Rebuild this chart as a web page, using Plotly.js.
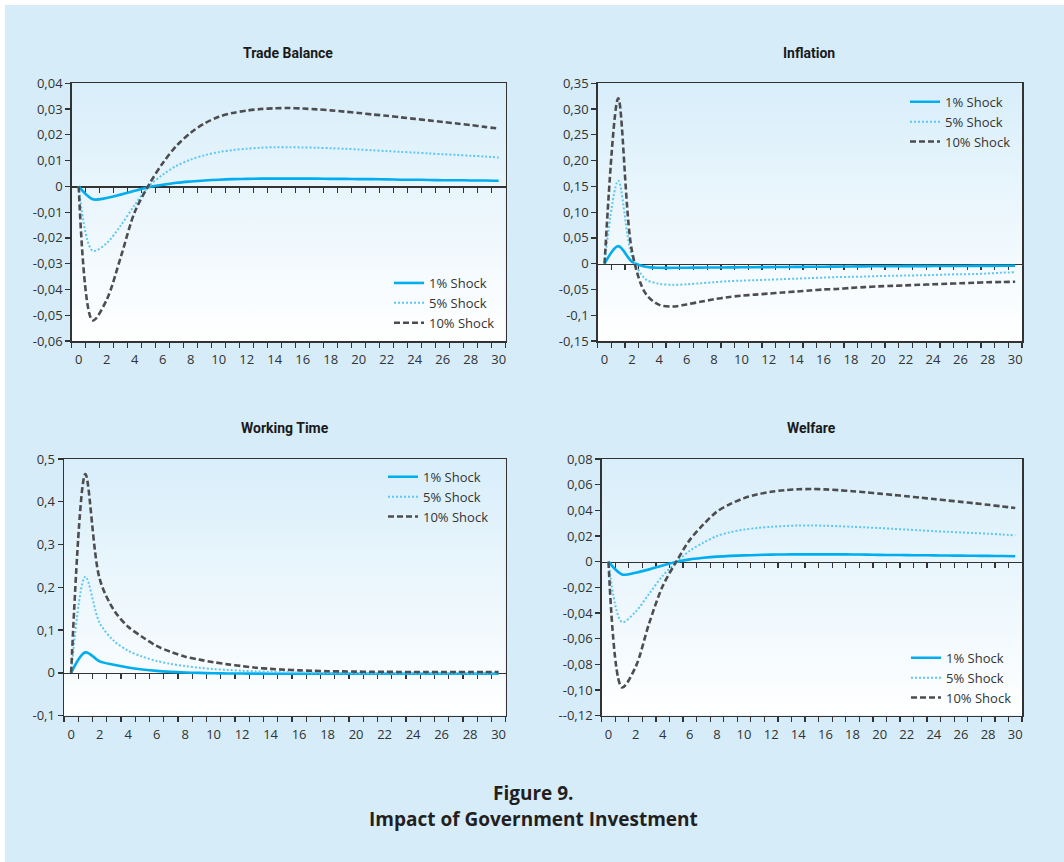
<!DOCTYPE html>
<html><head><meta charset="utf-8">
<script src="https://cdn.plot.ly/plotly-3.0.1.min.js"></script>
<style>html,body{margin:0;padding:0;background:#fff;}#chart{width:1064px;height:862px;}</style>
</head><body><div id="chart"></div>
<script>
// ---------- data ----------
const periods = [0,1,2,3,4,5,6,7,8,9,10,11,12,13,14,15,16,17,18,19,20,21,22,23,24,25,26,27,28,29,30];
const xTickVals = [0,2,4,6,8,10,12,14,16,18,20,22,24,26,28,30];
const xTickText = ['0','2','4','6','8','10','12','14','16','18','20','22','24','26','28','30'];
const seriesNames = ['1% Shock','5% Shock','10% Shock'];

const tradeBalance1  = [0,-0.0050,-0.0045,-0.0032,-0.0017,-0.0003,0.0006,0.0014,0.0019,0.0023,0.0026,0.0028,0.0029,0.0030,0.0030,0.0030,0.0030,0.0030,0.0029,0.0029,0.0028,0.0028,0.0027,0.0026,0.0026,0.0025,0.0024,0.0024,0.0023,0.0023,0.0022];
const tradeBalance5  = [0,-0.0250,-0.0220,-0.0152,-0.0072,0.0000,0.0045,0.0080,0.0104,0.0121,0.0133,0.0141,0.0146,0.0150,0.0152,0.0152,0.0151,0.0150,0.0148,0.0146,0.0143,0.0140,0.0137,0.0134,0.0131,0.0128,0.0125,0.0122,0.0119,0.0116,0.0112];
const tradeBalance10 = [0,-0.0520,-0.0440,-0.0275,-0.0100,0.0005,0.0090,0.0158,0.0208,0.0245,0.0270,0.0285,0.0294,0.0300,0.0303,0.0304,0.0302,0.0299,0.0295,0.0290,0.0285,0.0279,0.0274,0.0268,0.0262,0.0256,0.0250,0.0244,0.0238,0.0231,0.0224];
const tradeBalanceTickVals = [0.04,0.03,0.02,0.01,0,-0.01,-0.02,-0.03,-0.04,-0.05,-0.06];
const tradeBalanceTickText = ['0,04','0,03','0,02','0,01','0','-0,01','-0,02','-0,03','-0,04','-0,05','-0,06'];

const inflation1  = [0,0.034,0.004,-0.006,-0.008,-0.008,-0.0078,-0.0076,-0.0074,-0.0072,-0.0070,-0.0068,-0.0066,-0.0064,-0.0062,-0.0060,-0.0058,-0.0056,-0.0054,-0.0052,-0.0050,-0.0049,-0.0048,-0.0047,-0.0046,-0.0045,-0.0044,-0.0043,-0.0042,-0.0041,-0.0040];
const inflation5  = [0,0.161,0.015,-0.030,-0.039,-0.041,-0.040,-0.038,-0.036,-0.034,-0.033,-0.032,-0.031,-0.030,-0.029,-0.028,-0.027,-0.026,-0.0255,-0.025,-0.024,-0.0235,-0.023,-0.0225,-0.022,-0.021,-0.0205,-0.020,-0.019,-0.0175,-0.0165];
const inflation10 = [0,0.321,0.025,-0.058,-0.080,-0.083,-0.079,-0.074,-0.069,-0.065,-0.062,-0.060,-0.058,-0.056,-0.054,-0.052,-0.050,-0.049,-0.047,-0.0455,-0.044,-0.043,-0.042,-0.041,-0.040,-0.039,-0.038,-0.037,-0.036,-0.0355,-0.035];
const inflationTickVals = [0.35,0.30,0.25,0.20,0.15,0.10,0.05,0,-0.05,-0.1,-0.15];
const inflationTickText = ['0,35','0,30','0,25','0,20','0,15','0,10','0,05','0','-0,05','-0,1','-0,15'];

const workingTime1  = [0,0.048,0.027,0.019,0.0125,0.008,0.0047,0.0025,0.0010,0.0000,-0.0008,-0.0012,-0.0015,-0.0017,-0.0018,-0.0019,-0.0020,-0.0020,-0.0020,-0.0020,-0.0020,-0.0020,-0.0020,-0.0020,-0.0020,-0.0020,-0.0020,-0.0020,-0.0020,-0.0020,-0.0020];
const workingTime5  = [0,0.225,0.117,0.075,0.052,0.038,0.028,0.021,0.016,0.012,0.009,0.007,0.005,0.0035,0.0025,0.0015,0.0010,0.0005,0.0000,-0.0003,-0.0005,-0.0006,-0.0007,-0.0008,-0.0008,-0.0008,-0.0008,-0.0008,-0.0008,-0.0008,-0.0008];
const workingTime10 = [0,0.465,0.220,0.147,0.108,0.084,0.063,0.049,0.038,0.031,0.025,0.020,0.016,0.012,0.0095,0.0075,0.0060,0.0050,0.0040,0.0035,0.0030,0.0027,0.0025,0.0023,0.0022,0.0021,0.0020,0.0020,0.0020,0.0020,0.0020];
const workingTimeTickVals = [0.5,0.4,0.3,0.2,0.1,0,-0.1];
const workingTimeTickText = ['0,5','0,4','0,3','0,2','0,1','0','-0,1'];

const welfare1  = [0,-0.0099,-0.0086,-0.0060,-0.0030,-0.0003,0.0018,0.0030,0.0039,0.0045,0.0049,0.0052,0.0055,0.0056,0.0057,0.0057,0.0057,0.0057,0.0056,0.0055,0.0053,0.0052,0.0051,0.0050,0.0049,0.0048,0.0047,0.0046,0.0045,0.0044,0.0042];
const welfare5  = [0,-0.047,-0.039,-0.025,-0.011,-0.0005,0.0085,0.0148,0.0200,0.0230,0.0250,0.0263,0.0272,0.0278,0.0282,0.0282,0.0280,0.0276,0.0272,0.0267,0.0262,0.0256,0.0250,0.0244,0.0238,0.0233,0.0228,0.0223,0.0218,0.0212,0.0205];
const welfare10 = [0,-0.098,-0.082,-0.048,-0.019,0.000,0.017,0.029,0.039,0.045,0.0495,0.0525,0.0545,0.0557,0.0564,0.0566,0.0563,0.0557,0.0549,0.0540,0.0530,0.0520,0.0510,0.0499,0.0488,0.0477,0.0466,0.0455,0.0443,0.0431,0.0418];
const welfareTickVals = [0.08,0.06,0.04,0.02,0,-0.02,-0.04,-0.06,-0.08,-0.10,-0.12];
const welfareTickText = ['0,08','0,06','0,04','0,02','0','-0,02','-0,04','-0,06','-0,08','-0,10','--0,12'];

// ---------- layout helpers ----------
const W = 1064, H = 862;
const fx = px => px / W;
const fy = py => 1 - py / H;
const halfSteps = [];
for (let k = -0.5; k <= 30.5; k += 1) halfSteps.push(k);
const innerHalfSteps = halfSteps.filter(v => v > 0 && v < 30);

const panels = [
  {title:'Trade Balance', s:[tradeBalance1,tradeBalance5,tradeBalance10], yr:[-0.06,0.04], tv:tradeBalanceTickVals, tt:tradeBalanceTickText, box:[71.7,505.7,83.3,341], ty:53, tx:288, leg:[389,268]},
  {title:'Inflation', s:[inflation1,inflation5,inflation10], yr:[-0.15,0.35], tv:inflationTickVals, tt:inflationTickText, box:[597.7,1022,83.3,341], ty:53, tx:809, leg:[905,86.8]},
  {title:'Working Time', s:[workingTime1,workingTime5,workingTime10], yr:[-0.1,0.5], tv:workingTimeTickVals, tt:workingTimeTickText, box:[64,505.7,459,715.7], ty:428, tx:285, leg:[383,461.8]},
  {title:'Welfare', s:[welfare1,welfare5,welfare10], yr:[-0.12,0.08], tv:welfareTickVals, tt:welfareTickText, box:[601.7,1022,459,715.7], ty:428, tx:811.7, leg:[906,642.8]}
];

const lineStyles = [
  {color:'#00aeef', width:2.6, dash:'solid'},
  {color:'#5cc8f2', width:2, dash:'2px,2px'},
  {color:'#4d4d50', width:2.6, dash:'6px,3px'}
];

const gradSvg = "<svg xmlns='http://www.w3.org/2000/svg' width='100' height='100' preserveAspectRatio='none'><defs><linearGradient id='g' x1='0' y1='0' x2='0' y2='1'><stop offset='0' stop-color='#d8eefa'/><stop offset='1' stop-color='#ffffff'/></linearGradient></defs><rect width='100' height='100' fill='url(#g)'/></svg>";
const gradSrc = 'data:image/svg+xml;base64,' + btoa(gradSvg);

const axisFont = {family:'"Open Sans", sans-serif', size:13, color:'#333333'};
const traces = [];
const layout = {
  width: W, height: H,
  margin: {l:0, r:0, t:0, b:0},
  paper_bgcolor: '#ffffff',
  plot_bgcolor: 'rgba(0,0,0,0)',
  font: axisFont,
  shapes: [{type:'rect', xref:'paper', yref:'paper', x0:fx(5), x1:1, y0:0, y1:fy(5), fillcolor:'#d6ecf9', line:{width:0}, layer:'below'}],
  images: [],
  annotations: [
    {xref:'paper', yref:'paper', x:fx(533), y:fy(793), text:'Figure 9.', showarrow:false, xanchor:'center', yanchor:'middle', font:{family:'"Open Sans", sans-serif', size:19, color:'#231f20', weight:'bold'}},
    {xref:'paper', yref:'paper', x:fx(533), y:fy(819), text:'Impact of Government Investment', showarrow:false, xanchor:'center', yanchor:'middle', font:{family:'"Open Sans", sans-serif', size:19, color:'#231f20', weight:'bold'}}
  ]
};

panels.forEach((p, i) => {
  const n = i + 1;
  const xId = n === 1 ? 'x' : 'x' + n;
  const yId = n === 1 ? 'y' : 'y' + n;
  const zId = 'x' + (n + 4);
  const legId = n === 1 ? 'legend' : 'legend' + n;
  const [l, r, t, b] = p.box;
  const xd = [fx(l), fx(r)], yd = [fy(b), fy(t)];

  // empty trace that only registers the zero-crossing axis
  traces.push({type:'scatter', mode:'lines', x:[], y:[], xaxis:zId, yaxis:yId, showlegend:false, hoverinfo:'skip'});

  p.s.forEach((vals, k) => {
    traces.push({
      type:'scatter', mode:'lines', x:periods, y:vals, name:seriesNames[k],
      xaxis:xId, yaxis:yId, legend:legId,
      line:Object.assign({shape:'spline', smoothing:0.9}, lineStyles[k]),
      hoverinfo:'name+y'
    });
  });

  layout['xaxis' + (n === 1 ? '' : n)] = {
    domain:xd, anchor:yId, range:[-0.5,30.5], fixedrange:true,
    showline:true, mirror:true, linecolor:'#333333', linewidth:1.5,
    showgrid:false, zeroline:false,
    tickmode:'array', tickvals:xTickVals, ticktext:xTickText, ticks:'',
    ticklabelstandoff:6,
    minor:{tickmode:'array', tickvals:halfSteps, ticks:'outside', ticklen:5, tickwidth:1.3, tickcolor:'#333333', showgrid:false},
    tickfont:axisFont
  };
  layout['yaxis' + (n === 1 ? '' : n)] = {
    domain:yd, anchor:xId, range:p.yr, fixedrange:true,
    showline:true, mirror:true, linecolor:'#333333', linewidth:1.5,
    showgrid:false, zeroline:false,
    tickmode:'array', tickvals:p.tv, ticktext:p.tt,
    ticks:'outside', ticklen:5, tickwidth:1.3, tickcolor:'#333333',
    tickfont:axisFont
  };
  // horizontal axis crossing at zero, with its own tick marks
  const zeroPos = yd[0] + (0 - p.yr[0]) / (p.yr[1] - p.yr[0]) * (yd[1] - yd[0]);
  layout['xaxis' + (n + 4)] = {
    overlaying:xId, anchor:'free', position:zeroPos, range:[-0.5,30.5], fixedrange:true,
    showline:true, linecolor:'#333333', linewidth:1.5, layer:'below traces',
    showgrid:false, zeroline:false, showticklabels:false,
    tickmode:'array', tickvals:innerHalfSteps, ticks:'outside', ticklen:5, tickwidth:1.3, tickcolor:'#333333'
  };

  layout.images.push({source:gradSrc, xref:xId + ' domain', yref:yId + ' domain', x:0, y:1, sizex:1, sizey:1, xanchor:'left', yanchor:'top', sizing:'stretch', layer:'below'});

  layout[legId] = {
    x:fx(p.leg[0]), y:fy(p.leg[1]), xanchor:'left', yanchor:'top',
    bgcolor:'rgba(0,0,0,0)', borderwidth:0,
    font:{family:'"Open Sans", sans-serif', size:13, color:'#333333'}
  };

  layout.annotations.push({xref:'paper', yref:'paper', x:fx(p.tx), y:fy(p.ty), text:p.title, showarrow:false, xanchor:'center', yanchor:'middle',
    font:{family:'Roboto, "Open Sans", sans-serif', size:14, color:'#1a1a1a', weight:'bold'}});
});

Plotly.newPlot('chart', traces, layout, {displayModeBar:false, staticPlot:true});
</script></body></html>
